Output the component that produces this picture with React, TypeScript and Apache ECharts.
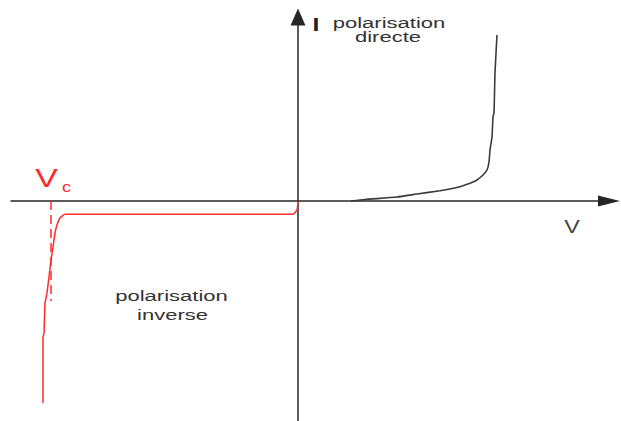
import { useEffect, useRef } from "react";
import * as echarts from "echarts";

// Forward-bias branch: voltage (V) and current (mA)
const forwardV = [1.06, 1.34, 1.98, 2.38, 2.84, 3.04, 3.24, 3.44, 3.58, 3.7, 3.78, 3.82, 3.84, 3.88, 3.9, 3.92, 3.94, 3.98];
const forwardI = [0, 0.15, 0.4, 0.7, 1.03, 1.2, 1.43, 1.77, 2.1, 2.6, 3.1, 3.9, 5.1, 6.4, 8.4, 8.8, 12.8, 16.6];

// Reverse-bias branch down to breakdown
const reverseV = [0, -0.02, -0.1, -4.66, -4.76, -4.82, -4.86, -4.9, -4.94, -4.98, -5.02, -5.06, -5.08, -5.1, -5.1];
const reverseI = [0, -0.9, -1.33, -1.33, -1.7, -2.4, -3.2, -4.6, -5.9, -7.6, -9.2, -10.2, -13.2, -13.6, -20.2];

// Breakdown voltage marker
const breakdownV = -4.94;
const breakdownMarkEnd = -10;

// Axis extents
const vRange = [-5.74, 6.22];
const iRange = [-22, 18.4];

const FONT = "'Liberation Sans', Arial, sans-serif";
const AXIS_COLOR = "#262626";
const RED = "#ff2b2b";

export default function App() {
  const ref = useRef<HTMLDivElement>(null);

  useEffect(() => {
    if (!ref.current) return;
    const chart = echarts.init(ref.current, undefined, { renderer: "svg" });

    const forward = forwardV.map((v, k) => [v, forwardI[k]]);
    const reverse = reverseV.map((v, k) => [v, reverseI[k]]);

    chart.setOption({
      animation: false,
      backgroundColor: "#ffffff",
      grid: { left: 11, right: 12, top: 17, bottom: 0, containLabel: false },
      xAxis: {
        type: "value",
        min: vRange[0],
        max: vRange[1],
        axisLine: {
          onZero: true,
          symbol: ["none", "triangle"],
          symbolSize: [11, 22],
          lineStyle: { color: AXIS_COLOR, width: 1.5 },
        },
        axisTick: { show: false },
        axisLabel: { show: false },
        splitLine: { show: false },
      },
      yAxis: {
        type: "value",
        min: iRange[0],
        max: iRange[1],
        axisLine: {
          show: true,
          onZero: true,
          symbol: ["none", "triangle"],
          symbolSize: [15, 17],
          lineStyle: { color: AXIS_COLOR, width: 1.5 },
        },
        axisTick: { show: false },
        axisLabel: { show: false },
        splitLine: { show: false },
      },
      series: [
        {
          name: "polarisation directe",
          type: "line",
          data: forward,
          showSymbol: false,
          smooth: 0.2,
          lineStyle: { color: "#3a3a3a", width: 1.6 },
          z: 3,
        },
        {
          name: "polarisation inverse",
          type: "line",
          data: reverse,
          showSymbol: false,
          smooth: 0.15,
          lineStyle: { color: RED, width: 1.5 },
          z: 3,
          markLine: {
            silent: true,
            symbol: ["none", "none"],
            label: { show: false },
            lineStyle: { color: RED, width: 1.5, type: [9, 5] },
            data: [[{ coord: [breakdownV, 0] }, { coord: [breakdownV, breakdownMarkEnd] }]],
          },
        },
      ],
      graphic: [
        {
          type: "text", x: 316, y: 25, scaleX: 1.3,
          style: { text: "I", font: `bold 19px ${FONT}`, fill: "#222", align: "center", verticalAlign: "middle" },
        },
        {
          type: "text", x: 572, y: 226.5, scaleX: 1.3,
          style: { text: "V", font: `18px ${FONT}`, fill: "#444", align: "center", verticalAlign: "middle" },
        },
        {
          type: "text", x: 46.5, y: 177.5, scaleX: 1.3,
          style: { text: "V", font: `26px ${FONT}`, fill: RED, align: "center", verticalAlign: "middle" },
        },
        {
          type: "text", x: 66.5, y: 186.5, scaleX: 1.3,
          style: { text: "c", font: `14px ${FONT}`, fill: RED, align: "center", verticalAlign: "middle" },
        },
        {
          type: "text", x: 389, y: 22.3, scaleX: 1.42,
          style: { text: "polarisation", font: `15.5px ${FONT}`, fill: "#333", align: "center", verticalAlign: "middle" },
        },
        {
          type: "text", x: 388, y: 36.9, scaleX: 1.42,
          style: { text: "directe", font: `15.5px ${FONT}`, fill: "#333", align: "center", verticalAlign: "middle" },
        },
        {
          type: "text", x: 171.5, y: 295.3, scaleX: 1.42,
          style: { text: "polarisation", font: `15.5px ${FONT}`, fill: "#333", align: "center", verticalAlign: "middle" },
        },
        {
          type: "text", x: 172.5, y: 314.6, scaleX: 1.42,
          style: { text: "inverse", font: `15.5px ${FONT}`, fill: "#333", align: "center", verticalAlign: "middle" },
        },
      ],
    });

    return () => chart.dispose();
  }, []);

  return (
    <div
      ref={ref}
      style={{ position: "absolute", left: 0, top: 0, width: 621, height: 421, background: "#fff" }}
    />
  );
}
